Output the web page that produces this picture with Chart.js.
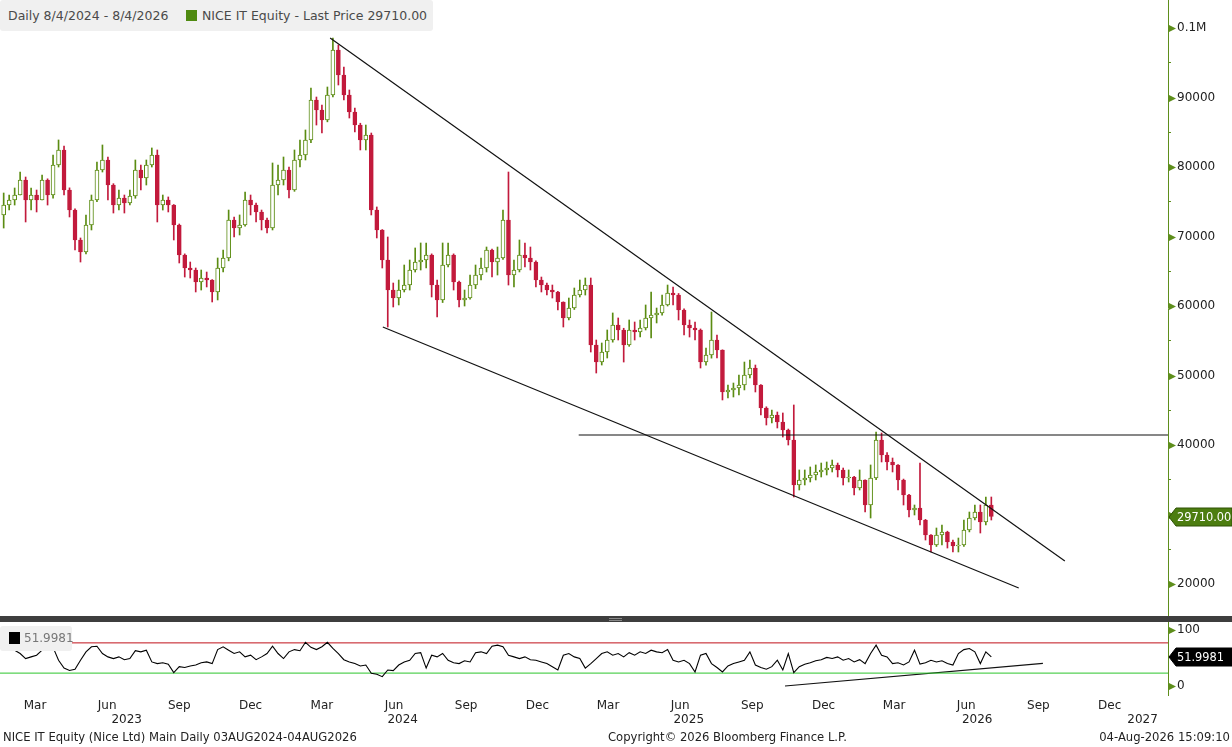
<!DOCTYPE html>
<html><head><meta charset="utf-8">
<script src="https://cdn.jsdelivr.net/npm/chart.js@4.4.1/dist/chart.umd.min.js"></script>
<style>
html,body{margin:0;padding:0;background:#fff;width:1232px;height:747px;overflow:hidden;font-family:"DejaVu Sans",sans-serif;}
#wrapA{position:absolute;left:0;top:0;width:1232px;height:616px;}
#wrapB{position:absolute;left:0;top:622px;width:1232px;height:109px;}
#sep{position:absolute;left:0;top:616px;width:1232px;height:6px;background:#3e3e3e;}
#grip{position:absolute;left:609px;top:618px;width:13px;height:1px;border-top:1px solid #888;border-bottom:1px solid #888;}
#leg{position:absolute;left:0;top:0;width:433px;height:31px;background:#f0f0f0;border-radius:3px;font-size:12.5px;color:#4a4a4a;}
#leg span{position:absolute;top:8px;white-space:nowrap;}
#legsq{position:absolute;left:186px;top:10px;width:11px;height:11px;background:#4f8a10;}
#rleg{position:absolute;left:0;top:626px;width:72px;height:25px;background:#f0f0f0;border-radius:3px;font-size:12px;color:#777;}
#rsq{position:absolute;left:9px;top:6px;width:11px;height:12px;background:#000;}
#rleg span{position:absolute;left:24px;top:5px;}
.foot{position:absolute;top:730px;font-size:11.6px;color:#222;white-space:nowrap;}
</style></head>
<body>
<div id="wrapA"><canvas id="cA"></canvas></div>
<div id="sep"></div><div id="grip"></div>
<div id="wrapB"><canvas id="cB"></canvas></div>
<div id="leg"><span style="left:8px">Daily 8/4/2024 - 8/4/2026</span><div id="legsq"></div><span style="left:202px">NICE IT Equity - Last Price 29710.00</span></div>
<div id="rleg"><div id="rsq"></div><span>51.9981</span></div>
<div class="foot" style="left:3px">NICE IT Equity (Nice Ltd) Main Daily 03AUG2024-04AUG2026</div>
<div class="foot" style="left:608px">Copyright© 2026 Bloomberg Finance L.P.</div>
<div class="foot" style="right:2px">04-Aug-2026 15:09:10</div>
<script>
// ---- DATA (weekly candles, week 0 = week of 3 Feb 2023) ----
const weekStart = '2023-02-03';
const opens = [73100,74530,75250,75970,78130,75250,75970,75250,78130,75970,
80290,82450,76690,73810,69500,67770,71660,75250,79570,81010,
77410,74530,75540,74820,75830,79570,78420,80290,81730,74530,
75250,74530,71660,67340,65470,65180,63460,64030,63740,62020,
65470,66910,72380,71220,71660,75250,74530,73530,72380,71220,
77410,78130,79570,76690,81010,81730,83890,89640,88200,86760,
90360,96840,93240,90360,87910,86040,83890,84610,73810,70940,
66620,62300,61150,62300,63020,65180,66330,66620,67340,63020,
60870,65900,67340,63460,60870,61150,63020,64460,65470,68060,
66330,66910,72380,64460,65180,67340,66910,66330,63740,63020,
62300,62020,60580,58280,59710,61580,62300,63020,54390,51940,
53380,55110,57270,56550,54390,56550,56260,56840,58280,58710,
59000,60150,61870,61580,59430,57270,56840,56550,51940,52950,
55110,53670,47630,47920,48200,48640,50070,51080,48640,45330,
43890,44320,43310,42160,40720,34250,34970,35250,35690,36120,
36410,36690,37130,36410,35250,35400,33820,34970,31370,35250,
40720,38560,37560,37130,34970,32810,30650,30940,29210,27050,
25610,27050,27490,26050,25470,25610,27770,29500,30360,28920,
31370];
const highs = [76260,75970,76980,79280,78560,76980,76690,78850,78300,81730,
83890,83000,77000,74000,69790,73100,75970,80720,83170,81440,
77600,76690,75970,76690,81010,80290,81010,82740,82450,75970,
75690,74600,71800,67500,66330,65470,65180,64890,63800,66910,
68060,73810,72810,73100,76400,75970,74820,73810,72660,80580,
80290,81440,80000,82450,83890,85330,91370,90070,88920,91510,
98560,97550,94390,91080,88490,86300,86040,84890,74250,71000,
69930,63310,63740,65900,66620,68350,69070,69070,67500,63740,
69070,69070,67500,63600,62300,64460,65900,66910,68490,68200,
68490,73810,79280,66620,69500,69070,68490,66500,64170,63310,
63020,62100,60600,61150,62590,63740,64030,64030,55110,54680,
56550,59000,58280,56800,57990,57700,57990,60150,62020,59710,
61580,63020,62740,61800,59600,57990,57700,56700,53960,59140,
55830,53700,48640,48920,50070,51940,52230,51510,48700,45500,
45040,44750,44610,42300,45760,36410,36410,36840,37130,37410,
37560,37840,37410,36690,36410,35500,36410,35000,37130,41870,
41730,38900,38130,37200,35100,32900,31370,37410,29300,27100,
28060,28490,27600,26330,26620,29210,30360,31370,31370,32520,
32520];
const lows = [71220,73810,74530,75970,72090,73810,73530,75250,74530,75500,
80000,75970,72810,68060,66330,67500,70940,75000,79280,75250,
73380,73810,73380,74530,75500,76690,77410,80000,72090,73810,
73530,69500,66190,64170,64030,62020,62300,62740,60580,60870,
64890,66500,69930,70220,71500,73100,72090,70940,70510,70940,
75970,77410,75540,76500,80000,81010,83500,86040,84890,86500,
90070,91800,89640,87050,85040,82450,82450,73100,69790,65470,
56980,59860,60150,62020,62300,64890,65180,65470,61300,58420,
60500,65610,62300,59860,60000,61000,62500,63740,64890,64170,
64460,66700,63020,62740,64900,65610,65180,62740,62020,61580,
61150,59430,56980,58000,59500,61300,61580,53380,50360,51510,
52520,54800,55110,51940,54200,55110,55540,56550,55400,57560,
58700,60000,60150,57990,55830,55540,55110,51080,51500,52500,
52520,46480,46770,46910,47200,47920,49640,47630,44320,42880,
43170,42450,41150,40000,32520,33530,34250,34680,34970,35400,
35690,36120,35400,34250,34680,32810,33530,30360,29500,35000,
37560,36410,36120,33530,31370,29640,29930,28490,26330,24610,
25400,25610,25180,24610,24610,25400,27500,29210,27340,28490,
29210];
const closes = [74530,75250,75970,78130,75250,75970,75250,78130,75970,80290,
82450,76690,73810,69500,67770,71660,75250,79570,81010,77410,
74530,75540,74820,75830,79570,78420,80290,81730,74530,75250,
74530,71660,67340,65470,65180,63460,64030,63740,62020,65470,
66910,72380,71220,71660,75250,74530,73530,72380,71220,77410,
78130,79570,76690,81010,81730,83890,89640,88200,86760,90360,
96840,93240,90360,87910,86040,83890,84610,73810,70940,66620,
62300,61150,62300,63020,65180,66330,66620,67340,63020,60870,
65900,67340,63460,60870,61150,63020,64460,65470,68060,66330,
66910,72380,64460,65180,67340,66910,66330,63740,63020,62300,
62020,60580,58280,59710,61580,62300,63020,54390,51940,53380,
55110,57270,56550,54390,56550,56260,56840,58280,58710,59000,
60150,61870,61580,59430,57270,56840,56550,51940,52950,55110,
53670,47630,47920,48200,48640,50070,51080,48640,45330,43890,
44320,43310,42160,40720,34250,34970,35250,35690,36120,36410,
36690,37130,36410,35250,35400,33820,34970,31370,35250,40720,
38560,37560,37130,34970,32810,30650,30940,29210,27050,25610,
27050,27490,26050,25470,25610,27770,29500,30360,28920,31370,
29710];
const rsi = [67,69,64,58,49,52,55,64,65,69,
46,32,27.6,30,46,61,70,71,58,52,
49,52,47,49,63,61,64,43,40,41.5,
39,24,34.5,33,35.7,37.5,41.5,43,40,65,
70,64,58,61,52,55,47,52,58,71,
58,49,61,65,63,78,69,65,70,78,
67,58,47,43,40,35.7,37.5,22.6,21,16.7,
28.6,27.4,37.5,43,46,58,59.5,32,55,52,
58,46,41.5,40,45,43,59.5,61,58,71,
73,70,55,52,49,52,47,46,43,40,
34.5,28.6,55,58,52,49,32,40,49,58,
61,55,58,52,59.5,55,61,58,64,61,
59.5,65,46,43,46,40,25,55,58,40,
33,25,35.7,40,43,46,61,37.5,33,30,
34.5,46,28.6,58,24,34.5,39,41.5,45,47,
51,49,52,46,49,43,47,40,58,73,
55,52,40,41.5,37.5,43,64,39,41.5,46,
43,45,40,37.5,58,65,67,61,40,61,
51.9981];
const lastPriceText = '29710.00';
const lastRsiText = '51.9981';
// trendlines (week index, price)
const trendUpperX = [59.5, 193.4], trendUpperY = [98560, 23310];
const trendLowerX = [69.1, 185.0], trendLowerY = [56980, 19430];
const levelX = [104.8, 212.2], levelY = 41440;
const rsiTrendX = [142.4, 189.4], rsiTrendY = [0, 40.5];
const rsiHigh = 77, rsiLow = 23;
// axis labels
const monthTickDates = ['2023-03-15','2023-06-15','2023-09-15','2023-12-15','2024-03-15','2024-06-15','2024-09-15','2024-12-15','2025-03-15','2025-06-15','2025-09-15','2025-12-15','2026-03-15','2026-06-15','2026-09-15','2026-12-15'];
const monthTickLabels = ['Mar','Jun','Sep','Dec','Mar','Jun','Sep','Dec','Mar','Jun','Sep','Dec','Mar','Jun','Sep','Dec'];
const yearTickDates = ['2023-07-10','2024-06-26','2025-06-26','2026-06-29','2027-01-26'];
const yearTickLabels = ['2023','2024','2025','2026','2027'];
const priceTicks = [20000,25000,30000,35000,40000,45000,50000,55000,60000,65000,70000,75000,80000,85000,90000,95000,100000];

// ---- rendering ----
const GREEN = '#5b8c12', RED = '#c21a3c', AXIS = '#5e8e1c';
const FONT = {family:'DejaVu Sans', size:12};
const XMIN = -0.67, XMAX = 212.2;
const t0 = Date.parse(weekStart + 'T00:00:00Z');
const weekOf = d => (Date.parse(d + 'T00:00:00Z') - t0) / (7 * 86400000);

const up = closes.map((c, i) => c >= opens[i]);
const bodies = closes.map((c, i) => ({x: i, y: [opens[i], c]}));
const wicks = closes.map((c, i) => ({x: i, y: [lows[i], highs[i]]}));
const line2 = (xs, ys) => xs.map((x, i) => ({x, y: Array.isArray(ys) ? ys[i] : ys}));
const noPad = s => { s.paddingTop = 0; s.paddingBottom = 0; s.paddingLeft = 0; s.paddingRight = 0; };

const decor = {
  id: 'decor',
  afterDraw(chart, args, o) {
    const ctx = chart.ctx, s = chart.scales[o.axis];
    ctx.save();
    s.ticks.forEach(t => {
      if (t.value % o.step === 0) {
        const py = Math.round(s.getPixelForValue(t.value)) + 0.5;
        ctx.fillStyle = AXIS;
        ctx.beginPath();
        ctx.moveTo(s.left + 1, py - 3.5); ctx.lineTo(s.left + 8, py); ctx.lineTo(s.left + 1, py + 3.5);
        ctx.closePath(); ctx.fill();
      }
    });
    const py = Math.round(s.getPixelForValue(o.tagValue));
    ctx.fillStyle = o.tagColor; ctx.strokeStyle = o.tagStroke; ctx.lineWidth = 1;
    ctx.beginPath();
    ctx.moveTo(s.left + 1, py); ctx.lineTo(s.left + 8, py - 9); ctx.lineTo(s.right, py - 9);
    ctx.lineTo(s.right, py + 9); ctx.lineTo(s.left + 8, py + 9); ctx.closePath();
    ctx.fill(); ctx.stroke();
    ctx.fillStyle = '#fff'; ctx.font = '11.4px "DejaVu Sans"'; ctx.textBaseline = 'middle'; ctx.textAlign = 'left';
    ctx.fillText(o.tagText, s.left + 9, py + 1);
    ctx.restore();
  }
};

const yAxisCommon = {
  position: 'right',
  afterFit(s) { s.width = 64; noPad(s); },
  grid: {drawOnChartArea: false, drawTicks: true, tickLength: 3, color: AXIS},
  border: {color: AXIS, width: 1},
  ticks: {font: FONT, color: '#222', padding: 6, autoSkip: false, maxRotation: 0}
};

new Chart(document.getElementById('cA'), {
  type: 'bar',
  data: {datasets: [
    {data: line2(trendUpperX, trendUpperY), type: 'line', borderColor: '#111', borderWidth: 1.2, pointRadius: 0, order: 0},
    {data: line2(trendLowerX, trendLowerY), type: 'line', borderColor: '#111', borderWidth: 1.2, pointRadius: 0, order: 0},
    {data: line2(levelX, levelY), type: 'line', borderColor: '#111', borderWidth: 1.2, pointRadius: 0, order: 0},
    {data: bodies, grouped: false, barThickness: 4, borderWidth: 1, borderSkipped: false,
     backgroundColor: up.map(u => u ? '#ffffff' : RED), borderColor: up.map(u => u ? GREEN : RED), order: 1},
    {data: wicks, grouped: false, barThickness: 1, borderWidth: 0,
     backgroundColor: up.map(u => u ? GREEN : RED), order: 2}
  ]},
  options: {
    responsive: true, maintainAspectRatio: false, animation: false, devicePixelRatio: 1,
    layout: {padding: 0},
    plugins: {legend: {display: false}, tooltip: {enabled: false},
      decor: {axis: 'y', step: 10000, tagValue: closes[closes.length - 1], tagText: lastPriceText, tagColor: '#4c7d10', tagStroke: '#2e5205'}},
    scales: {
      x: {type: 'linear', min: XMIN, max: XMAX, display: false, offset: false},
      y: Object.assign({}, yAxisCommon, {
        min: 15399, max: 104029,
        afterBuildTicks(s) { s.ticks = priceTicks.map(v => ({value: v})); },
        ticks: Object.assign({}, yAxisCommon.ticks, {callback: v => v === 100000 ? '0.1M' : (v % 10000 === 0 ? String(v) : '')})
      })
    }
  },
  plugins: [decor]
});

new Chart(document.getElementById('cB'), {
  type: 'line',
  data: {datasets: [
    {data: rsi.map((v, i) => ({x: i, y: v})), borderColor: '#000', borderWidth: 1.1, pointRadius: 0, tension: 0},
    {data: line2([XMIN, XMAX], rsiHigh), borderColor: '#c0101a', borderWidth: 1, pointRadius: 0},
    {data: line2([XMIN, XMAX], rsiLow), borderColor: '#2cc52c', borderWidth: 1, pointRadius: 0},
    {data: line2(rsiTrendX, rsiTrendY), borderColor: '#111', borderWidth: 1.2, pointRadius: 0}
  ]},
  options: {
    responsive: true, maintainAspectRatio: false, animation: false, devicePixelRatio: 1,
    layout: {padding: 0},
    plugins: {legend: {display: false}, tooltip: {enabled: false},
      decor: {axis: 'y', step: 100, tagValue: rsi[rsi.length - 1], tagText: lastRsiText, tagColor: '#000', tagStroke: '#000'}},
    scales: {
      x: {type: 'linear', min: XMIN, max: XMAX, position: 'bottom', weight: 0, offset: false,
        afterFit(s) { s.height = 18; noPad(s); },
        afterBuildTicks(s) { s.ticks = monthTickDates.map(d => ({value: weekOf(d)})); },
        grid: {display: false, drawTicks: false}, border: {display: false},
        ticks: {autoSkip: false, maxRotation: 0, font: FONT, color: '#222', padding: 4, callback: (v, i) => monthTickLabels[i]}},
      xYear: {type: 'linear', axis: 'x', min: XMIN, max: XMAX, position: 'bottom', weight: 1, offset: false,
        afterFit(s) { s.height = 18; noPad(s); },
        afterBuildTicks(s) { s.ticks = yearTickDates.map(d => ({value: weekOf(d)})); },
        grid: {display: false, drawTicks: false}, border: {display: false},
        ticks: {autoSkip: false, maxRotation: 0, font: FONT, color: '#222', padding: 0, callback: (v, i) => yearTickLabels[i]}},
      y: Object.assign({}, yAxisCommon, {
        min: -16.1, max: 114.3,
        afterBuildTicks(s) { s.ticks = [{value: 0}, {value: 100}]; },
        ticks: Object.assign({}, yAxisCommon.ticks, {callback: v => String(v)})
      })
    }
  },
  plugins: [decor]
});
</script>
</body></html>
